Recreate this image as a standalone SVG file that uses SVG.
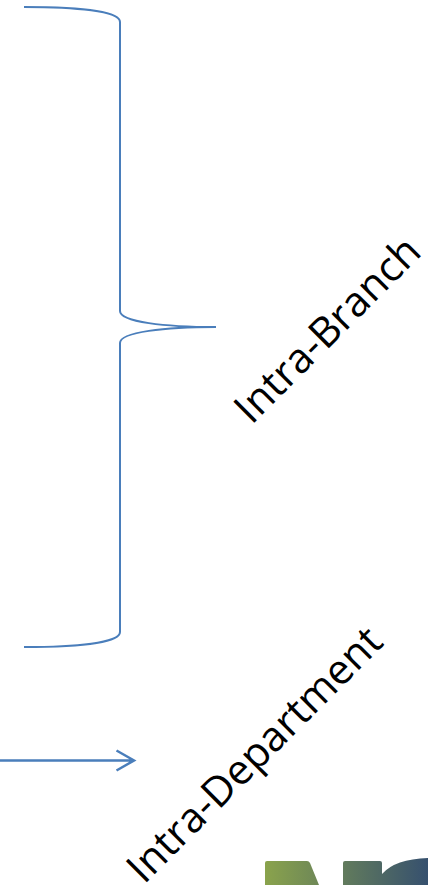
<svg xmlns="http://www.w3.org/2000/svg" width="428" height="885" viewBox="0 0 428 885">
<style>
.c{fill:none;stroke:#4a7ebb;stroke-width:2}
.a{stroke-width:2.500}
.t{font-family:"Open Sans","Liberation Sans",sans-serif;font-size:41.500px;fill:#000}
</style>
<defs>
<linearGradient id="g" gradientUnits="userSpaceOnUse" x1="265" y1="0" x2="428" y2="0">
<stop offset="0" stop-color="#8aa34c"/><stop offset="1" stop-color="#36506e"/>
</linearGradient>
</defs>
<rect width="428" height="885" fill="#fff"/>
<g id="connectors">
<path class="c" d="M24 7C75 7 120 11 120 22V311C120 322 165 327 216 327C165 327 120 332 120 343V632C120 643 75 647 24 647"/>
<path class="c a" d="M0 760.500H134M116.500 750.500L134 760.500L116.500 770.500"/>
</g>
<g id="label-branch"><text class="t" transform="translate(251.500 425.500) rotate(-45)">Intra-Branch</text></g>
<g id="label-department"><text class="t" transform="translate(144 885) rotate(-45)">Intra-Department</text></g>
<g id="logo" fill="url(#g)">
<path d="M265 863Q265 861 267 861H307Q309 861 310 863L319 885H265Z"/>
<path d="M343 863Q343 861 345 861H380Q382 861 382 863V874Q395 859 428 858V885H343Z"/>
</g>
</svg>
